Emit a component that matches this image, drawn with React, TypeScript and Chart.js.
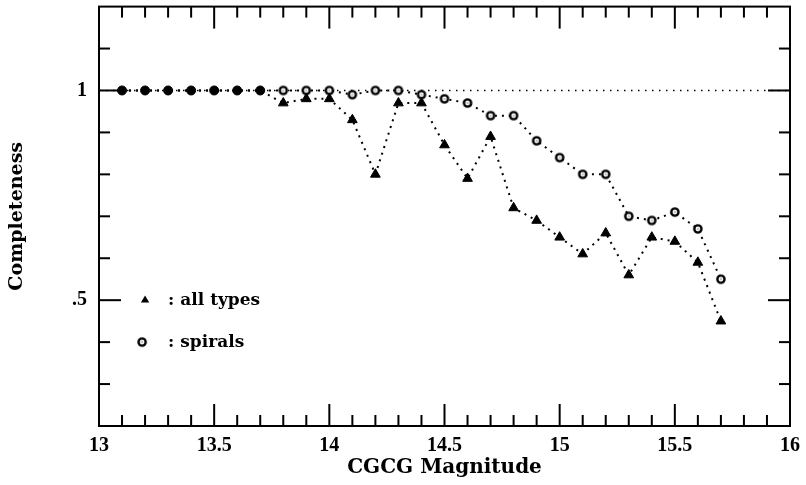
import React, { useEffect, useRef } from 'react';
import { Chart, registerables } from 'chart.js';

Chart.register(...registerables);

// ---- data ----
const magnitudes = [
  13.1, 13.2, 13.3, 13.4, 13.5, 13.6, 13.7, 13.8, 13.9, 14.0,
  14.1, 14.2, 14.3, 14.4, 14.5, 14.6, 14.7, 14.8, 14.9, 15.0,
  15.1, 15.2, 15.3, 15.4, 15.5, 15.6, 15.7,
];
const allTypes = [
  1, 1, 1, 1, 1, 1, 1, 0.97, 0.98, 0.98,
  0.93, 0.8, 0.97, 0.97, 0.87, 0.79, 0.89, 0.72, 0.69, 0.65,
  0.61, 0.66, 0.56, 0.65, 0.64, 0.59, 0.45,
];
const spirals = [
  1, 1, 1, 1, 1, 1, 1, 1, 1, 1,
  0.99, 1, 1, 0.99, 0.98, 0.97, 0.94, 0.94, 0.88, 0.84,
  0.8, 0.8, 0.7, 0.69, 0.71, 0.67, 0.55,
];
// magnitudes where both samples are complete (drawn as filled dots)
const bothCompleteCount = 7;
const refLineX = [13, 16];
const refLineY = [1, 1];
const legendLabels = [': all types', ': spirals'];
const xTitle = 'CGCG Magnitude';
const yTitle = 'Completeness';

const TICK_FONT = '"Liberation Serif", serif';
const TITLE_FONT = '"DejaVu Serif", serif';

function makeRing(): HTMLCanvasElement {
  const c = document.createElement('canvas');
  c.width = 12;
  c.height = 12;
  const g = c.getContext('2d')!;
  g.beginPath();
  g.arc(6, 6, 3.6, 0, Math.PI * 2);
  g.fillStyle = '#fff';
  g.fill();
  g.lineWidth = 2.4;
  g.strokeStyle = '#000';
  g.stroke();
  g.fillStyle = '#000';
  g.fillRect(5.5, 5.5, 1, 1);
  return c;
}

function makeFramePlugin(ring: HTMLCanvasElement) {
  return {
    id: 'frameTicks',
    afterDatasetsDraw(chart: any) {
      const { ctx, chartArea: a, scales } = chart;
      const x = scales.x;
      const y = scales.y;
      ctx.save();
      ctx.strokeStyle = '#000';
      ctx.lineWidth = 2;
      ctx.lineCap = 'butt';
      const line = (x1: number, y1: number, x2: number, y2: number) => {
        ctx.beginPath();
        ctx.moveTo(x1, y1);
        ctx.lineTo(x2, y2);
        ctx.stroke();
      };
      for (let i = 1; i < 30; i++) {
        const px = x.getPixelForValue(13 + i * 0.1);
        const len = i % 5 === 0 ? 22 : 11;
        line(px, a.bottom, px, a.bottom - len);
        line(px, a.top, px, a.top + len);
      }
      for (let i = 1; i < 10; i++) {
        const py = y.getPixelForValue(0.2 + i * 0.1);
        const len = i === 3 || i === 8 ? 22 : 11;
        line(a.left, py, a.left + len, py);
        line(a.right, py, a.right - len, py);
      }
      ctx.strokeRect(a.left, a.top, a.right - a.left, a.bottom - a.top);

      // legend, anchored through the scales
      const mx = x.getPixelForValue(13.2);
      const tx = x.getPixelForValue(13.3);
      const y1 = y.getPixelForValue(0.5);
      const y2 = y.getPixelForValue(0.4);
      ctx.fillStyle = '#000';
      const r = 4.8;
      ctx.beginPath();
      ctx.moveTo(mx, y1 - r);
      ctx.lineTo(mx + r * 0.866, y1 + r * 0.5);
      ctx.lineTo(mx - r * 0.866, y1 + r * 0.5);
      ctx.closePath();
      ctx.fill();
      ctx.drawImage(ring, mx - 3 - ring.width / 2, y2 - ring.height / 2);
      ctx.font = 'bold 17px ' + TITLE_FONT;
      ctx.textAlign = 'left';
      ctx.textBaseline = 'middle';
      ctx.fillText(legendLabels[0], tx, y1);
      ctx.fillText(legendLabels[1], tx, y2);
      ctx.restore();
    },
  };
}

export default function App() {
  const ref = useRef<HTMLCanvasElement>(null);

  useEffect(() => {
    if (!ref.current) return;
    const ring = makeRing();
    const toXY = (ys: number[]) => magnitudes.map((m, i) => ({ x: m, y: ys[i] }));
    const chart: any = new Chart(ref.current, {
      type: 'line',
      data: {
        datasets: [
          {
            label: 'reference',
            data: refLineX.map((v, i) => ({ x: v, y: refLineY[i] })),
            borderColor: '#000',
            borderWidth: 1.5,
            borderDash: [1.5, 5.5],
            pointRadius: 0,
            fill: false,
            order: 3,
          },
          {
            label: 'spirals',
            data: toXY(spirals),
            borderColor: '#000',
            borderWidth: 2,
            borderDash: [2, 5],
            pointStyle: magnitudes.map((_, i) => (i < bothCompleteCount ? 'circle' : ring)) as any,
            pointRadius: magnitudes.map((_, i) => (i < bothCompleteCount ? 0 : 4)),
            pointBackgroundColor: '#fff',
            pointBorderColor: '#000',
            fill: false,
            order: 2,
          },
          {
            label: 'all types',
            data: toXY(allTypes),
            borderColor: '#000',
            borderWidth: 2,
            borderDash: [2, 5],
            pointStyle: magnitudes.map((_, i) => (i < bothCompleteCount ? 'circle' : 'triangle')) as any,
            pointRadius: magnitudes.map((_, i) => (i < bothCompleteCount ? 4.5 : 5.6)),
            pointBackgroundColor: '#000',
            pointBorderColor: '#000',
            pointBorderWidth: 1,
            fill: false,
            order: 1,
          },
        ],
      },
      options: {
        animation: false,
        responsive: false,
        layout: { padding: { top: 6, right: 16, left: 0, bottom: 0 } },
        plugins: { legend: { display: false }, tooltip: { enabled: false } },
        scales: {
          x: {
            type: 'linear',
            min: 13,
            max: 16,
            grid: { display: false, drawTicks: false },
            border: { display: false },
            ticks: {
              stepSize: 0.5,
              autoSkip: false,
              maxRotation: 0,
              padding: 8,
              color: '#000',
              font: { family: TICK_FONT, size: 20, weight: 'bold' },
              callback: (v: any) => String(Math.round(Number(v) * 10) / 10),
            },
            title: {
              display: true,
              text: xTitle,
              color: '#000',
              font: { family: TITLE_FONT, size: 20, weight: 'bold' },
              padding: { top: 0, bottom: 5 },
            },
            afterFit: (s: any) => {
              s.height = 59;
              s.paddingLeft = 0;
              s.paddingRight = 0;
            },
          },
          y: {
            type: 'linear',
            min: 0.2,
            max: 1.2,
            grid: { display: false, drawTicks: false },
            border: { display: false },
            ticks: {
              stepSize: 0.1,
              autoSkip: false,
              padding: 12,
              color: '#000',
              font: { family: TICK_FONT, size: 20, weight: 'bold' },
              callback: (v: any) => {
                const n = Number(v);
                if (Math.abs(n - 1) < 1e-6) return '1';
                if (Math.abs(n - 0.5) < 1e-6) return '.5';
                return '';
              },
            },
            title: {
              display: true,
              text: yTitle,
              color: '#000',
              font: { family: TITLE_FONT, size: 19, weight: 'bold' },
              padding: { top: 6, bottom: 0 },
            },
            afterFit: (s: any) => {
              s.width = 99;
              s.paddingTop = 0;
              s.paddingBottom = 0;
            },
          },
        },
      },
      plugins: [makeFramePlugin(ring)],
    });
    return () => chart.destroy();
  }, []);

  return (
    <div style={{ position: 'fixed', left: 0, top: 0, width: 806, height: 485, background: '#fff' }}>
      <canvas ref={ref} width={806} height={485} style={{ display: 'block' }} />
    </div>
  );
}
